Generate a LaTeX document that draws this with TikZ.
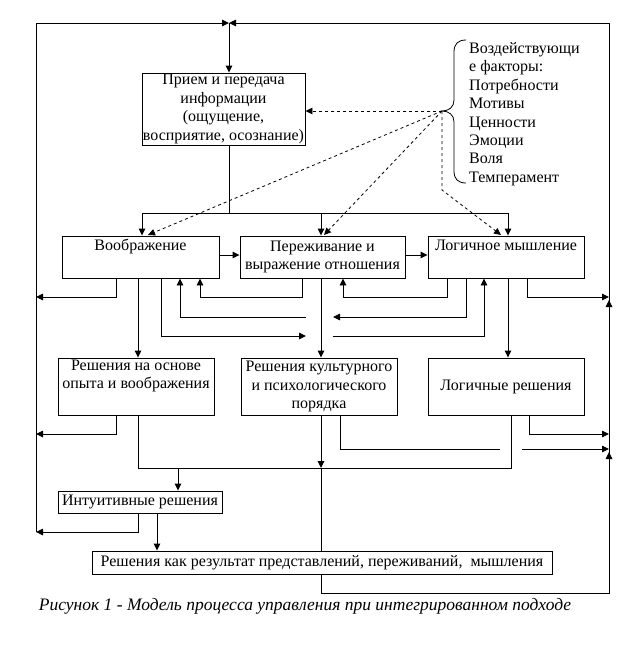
\documentclass[tikz,border=0pt]{standalone}
\usepackage{fontspec}
\setmainfont{Liberation Serif}
\usetikzlibrary{arrows.meta}
\begin{document}
\begin{tikzpicture}[x=1pt,y=-1pt,
  ln/.style={line width=0.9pt},
  arr/.style={ln,-{Triangle[length=7pt,width=6.5pt]}},
  dsh/.style={line width=0.8pt,dash pattern=on 3pt off 3pt},
  darr/.style={dsh,-{Triangle[length=7pt,width=6.5pt]}},
  box/.style={draw,ln,inner sep=0pt,align=center,font=\fontsize{16pt}{18.5pt}\selectfont},
  txt/.style={inner sep=0pt,align=left,font=\fontsize{16pt}{18.45pt}\selectfont},
  captext/.style={inner sep=0pt,font=\fontsize{17.5pt}{20pt}\selectfont\itshape}]
\useasboundingbox (0,0) rectangle (624,651);

% boxes
\node[box,minimum width=163pt,minimum height=72pt] (b1) at (223.5,109)
  {Прием и передача\\информации\\(ощущение,\\восприятие, осознание)};
\node[box,minimum width=157pt,minimum height=42pt] (vo) at (140.5,257) {Воображение\\\strut};
\node[box,minimum width=165pt,minimum height=42pt] (pe) at (322.5,257) {Переживание и\\выражение отношения};
\node[box,minimum width=156pt,minimum height=42pt] (lm) at (506,257) {Логичное мышление\\\strut};
\node[box,minimum width=156pt,minimum height=57pt] (ro) at (136,386.5) {Решения на основе\\опыта и воображения\\\strut};
\node[box,minimum width=156pt,minimum height=57pt] (rk) at (319,386.5) {Решения культурного\\и психологического\\порядка};
\node[box,minimum width=156pt,minimum height=57pt] (lr) at (506,386.5) {Логичные решения};
\node[box,minimum width=164pt,minimum height=22pt] (in) at (140,502) {Интуитивные решения};
\node[box,minimum width=460pt,minimum height=23pt] (rr) at (322,562.5) {Решения как результат представлений, переживаний,\ \ мышления};

% factors
\node[txt,anchor=west] (fac) at (469,114)
  {Воздействующи\\е факторы:\\Потребности\\Мотивы\\Ценности\\Эмоции\\Воля\\Темперамент};
\coordinate (tip) at (442,111);
\draw[line width=0.8pt] (466,40) .. controls (458,40) and (454,44) .. (454,52) -- (454,100)
  .. controls (454,107) and (449,111) .. (tip)
  .. controls (449,111) and (454,115) .. (454,122) -- (454,171)
  .. controls (454,179) and (458,183) .. (466,183);

% dashed influences
\draw[darr] (tip) -- (tip -| b1.east);
\draw[darr] (tip) -- (148,235);
\draw[darr] (tip) -- (324,235);
\draw[darr] (tip) -- (442,190) -- (501,235);

% outer loop
\coordinate (top) at (229,23);
\draw[arr] (36,532) -- (36,23) -- (top);
\draw[arr] (rr.south -| 321,0) -- (321,593) -- (609,593) -- (609,23) -- (top);
\draw[arr] (609,312) -- (609,300);
\draw[arr] (609,464) -- (609,452);
\draw[arr] (top) -- (top |- b1.north);

% distribution from b1
\draw[ln] (b1.south -| top) -- (229,213);
\draw[ln] (142,213) -- (508,213);
\draw[arr] (142,213) -- (vo.north -| 142,0);
\draw[arr] (321,213) -- (pe.north -| 321,0);
\draw[arr] (508,213) -- (lm.north -| 508,0);

% row 2 links
\draw[arr] ([yshift=2pt]vo.east) -- ([yshift=2pt]pe.west);
\draw[arr] ([yshift=2pt]pe.east) -- ([yshift=2pt]lm.west);

% below Воображение
\draw[arr] (vo.south -| 116,0) -- (116,297) -- (36,297);
\draw[arr] (vo.south -| 138,0) -- (ro.north -| 138,0);
\draw[arr] (vo.south -| 161,0) -- (161,336) -- (306,336);
\draw[arr] (pe.south -| 302,0) -- (302,297) -- (200,297) -- (vo.south -| 200,0);
\draw[arr] (306,317) -- (180,317) -- (vo.south -| 180,0);
\draw[arr] (pe.south -| 321,0) -- (rk.north -| 321,0);
\draw[arr] (lm.south -| 447,0) -- (447,297) -- (343,297) -- (pe.south -| 343,0);
\draw[arr] (lm.south -| 466,0) -- (466,317) -- (333,317);
\draw[arr] (333,336) -- (484,336) -- (lm.south -| 484,0);
\draw[arr] (lm.south -| 508,0) -- (lr.north -| 508,0);
\draw[arr] (lm.south -| 527,0) -- (527,297) -- (609,297);

% below row 3
\draw[arr] (ro.south -| 116,0) -- (116,434) -- (36,434);
\draw[ln] (ro.south -| 138,0) -- (138,468) -- (511,468) -- (lr.south -| 511,0);
\draw[arr] (178,468) -- (in.north -| 178,0);
\draw[arr] (rk.south -| 321,0) -- (321,468);
\draw[ln] (321,468) -- (rr.north -| 321,0);
\draw[ln] (rk.south -| 340,0) -- (340,449) -- (500,449);
\draw[arr] (522,449) -- (609,449);
\draw[arr] (lr.south -| 529,0) -- (529,434) -- (609,434);
\draw[arr] (in.south -| 138,0) -- (138,532) -- (36,532);
\draw[arr] (in.south -| 157,0) -- (rr.north -| 157,0);

% caption
\node[captext] (caption) at (305,606) {Рисунок 1 - Модель процесса управления при интегрированном подходе};
\end{tikzpicture}
\end{document}
